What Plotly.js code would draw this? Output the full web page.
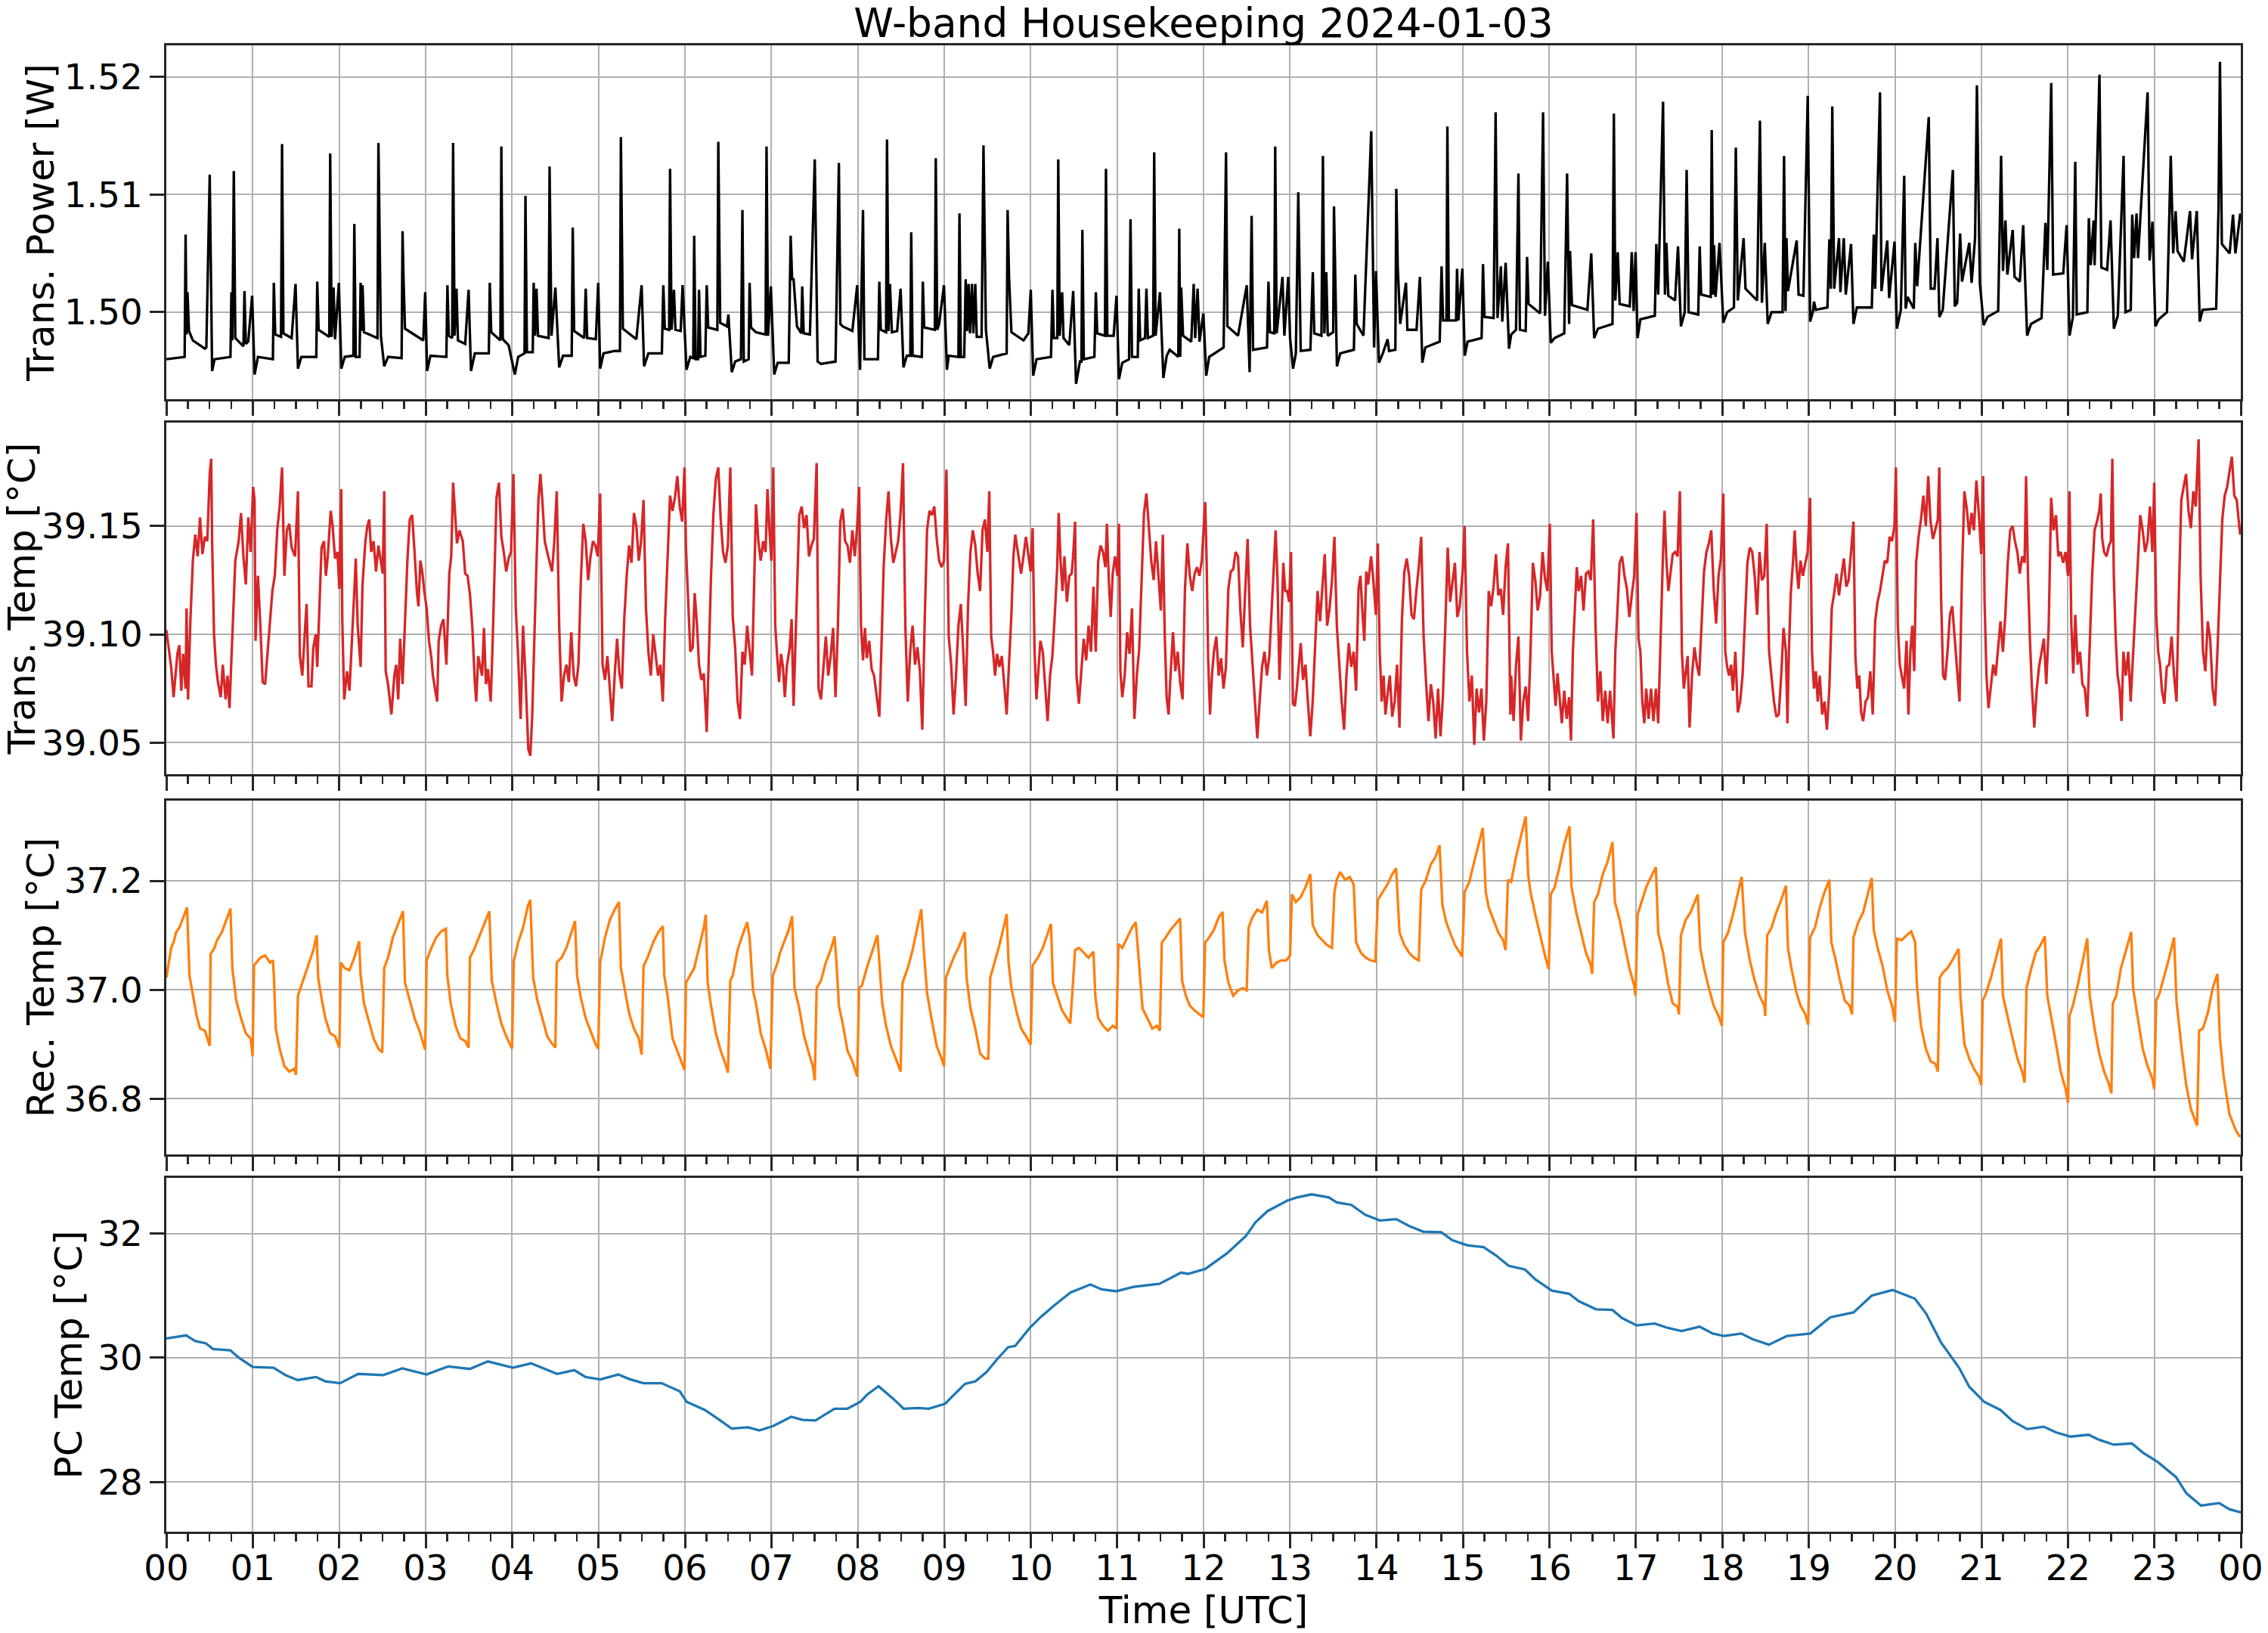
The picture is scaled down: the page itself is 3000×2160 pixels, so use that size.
<!DOCTYPE html>
<html>
<head>
<meta charset="utf-8">
<script src="https://cdn.plot.ly/plotly-3.0.1.min.js"></script>
<style>html,body{margin:0;padding:0;background:#fff;}#chart{width:3000px;height:2160px;}</style>
</head>
<body>
<div id="chart"></div>
<script>
// ---- tick labels (hours UTC) ----
const hourTicks = [0,1,2,3,4,5,6,7,8,9,10,11,12,13,14,15,16,17,18,19,20,21,22,23,24];
const hourLabels = ["00","01","02","03","04","05","06","07","08","09","10","11","12","13","14","15","16","17","18","19","20","21","22","23","00"];

// ---- Trans. Power [W] : [hour, value] ----
const transPower = [
[0.000,1.4960],[0.212,1.4962],[0.223,1.5066],[0.234,1.4981],[0.245,1.5017],[0.262,1.4984],[0.307,1.4976],[0.446,1.4969],[0.463,1.4970],[0.502,1.5117],[0.530,1.4950],[0.558,1.4960],
[0.742,1.4962],[0.753,1.5017],[0.764,1.4976],[0.781,1.5120],[0.798,1.4978],[0.892,1.4971],[0.904,1.5018],[0.920,1.4973],[0.948,1.4975],[0.993,1.5014],[1.021,1.4947],[1.060,1.4962],
[1.233,1.4960],[1.244,1.5025],[1.260,1.4981],[1.327,1.4979],[1.339,1.5143],[1.355,1.4982],[1.450,1.4978],[1.495,1.5024],[1.523,1.4952],[1.562,1.4962],
[1.735,1.4962],[1.746,1.5026],[1.762,1.4985],[1.885,1.4979],[1.896,1.5135],[1.913,1.4979],[1.935,1.5021],[1.952,1.4977],[1.996,1.5025],[2.025,1.4952],[2.064,1.4962],
[2.164,1.4963],[2.175,1.5075],[2.192,1.4962],[2.236,1.4962],[2.248,1.5025],[2.259,1.4984],[2.270,1.5023],[2.287,1.4983],[2.443,1.4978],[2.454,1.5144],[2.482,1.4980],[2.521,1.4954],[2.566,1.4962],
[2.722,1.4961],[2.733,1.5069],[2.744,1.5030],[2.761,1.4986],[2.973,1.4976],[2.995,1.5017],[3.017,1.4950],[3.056,1.4963],
[3.240,1.4962],[3.252,1.5023],[3.268,1.4980],[3.307,1.4978],[3.318,1.5144],[3.335,1.4980],[3.357,1.5020],[3.374,1.4976],[3.458,1.4973],[3.497,1.5019],[3.525,1.4950],[3.569,1.4965],
[3.731,1.4965],[3.742,1.5025],[3.759,1.4983],[3.865,1.4976],[3.876,1.5141],[3.893,1.4977],[3.960,1.4972],[4.032,1.4947],[4.071,1.4962],
[4.144,1.4965],[4.155,1.5099],[4.172,1.4966],[4.239,1.4966],[4.250,1.5025],[4.266,1.4980],[4.283,1.5020],[4.300,1.4980],[4.423,1.4978],[4.434,1.5124],[4.456,1.4980],[4.501,1.5021],[4.545,1.4953],[4.590,1.4963],
[4.690,1.4963],[4.702,1.5072],[4.718,1.4984],[4.835,1.4978],[4.852,1.5020],[4.869,1.4978],[4.969,1.4977],[4.997,1.5025],[5.019,1.4952],[5.058,1.4965],
[5.187,1.4967],[5.248,1.4967],[5.259,1.5149],[5.282,1.4986],[5.438,1.4977],[5.499,1.5023],[5.527,1.4954],[5.577,1.4965],
[5.733,1.4965],[5.750,1.5023],[5.767,1.4986],[5.817,1.4985],[5.828,1.5122],[5.845,1.4985],[5.873,1.5019],[5.890,1.4985],[5.951,1.4984],[5.973,1.5023],[6.018,1.4951],[6.062,1.4962],
[6.096,1.4961],[6.107,1.5065],[6.124,1.4960],[6.152,1.4960],[6.163,1.5019],[6.180,1.4962],[6.236,1.4963],[6.252,1.5023],[6.269,1.4987],[6.375,1.4985],[6.386,1.5145],[6.408,1.4991],[6.486,1.4988],[6.503,1.4998],[6.542,1.4949],[6.581,1.4958],
[6.648,1.4960],[6.665,1.5087],[6.681,1.4958],[6.737,1.4960],[6.748,1.5025],[6.765,1.4987],[6.821,1.4983],[6.933,1.4981],[6.944,1.5141],[6.961,1.4980],[6.994,1.5022],[7.033,1.4947],[7.073,1.4957],
[7.201,1.4957],[7.223,1.5065],[7.240,1.5028],[7.257,1.5028],[7.296,1.4988],[7.346,1.4982],[7.357,1.5022],[7.374,1.4982],[7.446,1.4981],[7.502,1.5130],[7.535,1.4958],[7.574,1.4956],
[7.742,1.4958],[7.758,1.5028],[7.781,1.5127],[7.798,1.4990],[7.825,1.4988],[7.937,1.4984],[7.993,1.5023],[8.026,1.4951],[8.060,1.5087],[8.076,1.4960],
[8.233,1.4960],[8.249,1.5026],[8.266,1.4985],[8.327,1.4983],[8.338,1.5147],[8.355,1.4984],[8.372,1.5024],[8.394,1.4983],[8.455,1.4984],[8.495,1.5020],[8.528,1.4953],[8.567,1.4963],
[8.607,1.4963],[8.618,1.5068],[8.634,1.4963],[8.740,1.4962],[8.752,1.5026],[8.768,1.4987],[8.891,1.4985],[8.902,1.5131],[8.919,1.4985],[8.941,1.4990],[8.997,1.5023],[9.031,1.4951],[9.052,1.4963],
[9.164,1.4962],[9.176,1.5084],[9.192,1.4962],[9.231,1.4962],[9.248,1.5028],[9.264,1.4984],[9.281,1.5024],[9.298,1.4982],[9.320,1.5024],[9.337,1.4982],[9.359,1.5024],[9.376,1.4979],[9.432,1.4979],[9.454,1.5142],[9.482,1.4985],[9.526,1.4952],[9.566,1.4962],
[9.722,1.4965],[9.733,1.5087],[9.750,1.5029],[9.777,1.4983],[9.917,1.4976],[9.973,1.4982],[10.001,1.5019],[10.029,1.4946],[10.068,1.4960],
[10.235,1.4962],[10.252,1.5019],[10.268,1.4978],[10.308,1.4978],[10.319,1.5130],[10.336,1.4980],[10.364,1.5017],[10.380,1.4978],[10.447,1.4972],[10.492,1.5018],[10.525,1.4939],[10.570,1.4958],
[10.587,1.4958],[10.598,1.5070],[10.615,1.4960],[10.737,1.4962],[10.754,1.5017],[10.770,1.4982],[10.859,1.4980],[10.871,1.5122],[10.887,1.4980],[10.960,1.4980],[10.993,1.5014],[11.021,1.4943],[11.060,1.4957],
[11.138,1.4960],[11.155,1.5079],[11.172,1.4962],[11.239,1.4962],[11.250,1.5020],[11.267,1.4976],[11.323,1.4978],[11.339,1.5020],[11.356,1.4978],[11.417,1.4980],[11.429,1.5136],[11.445,1.4980],[11.496,1.5017],[11.535,1.4944],[11.574,1.4963],
[11.608,1.4968],[11.708,1.4962],[11.719,1.5071],[11.730,1.4962],[11.741,1.5021],[11.763,1.4980],[11.858,1.4975],[11.886,1.5024],[11.903,1.4978],[11.931,1.5020],[11.953,1.4975],[11.998,1.4999],[12.031,1.4946],[12.065,1.4962],
[12.232,1.4970],[12.260,1.5136],[12.276,1.4988],[12.399,1.4980],[12.500,1.5023],[12.533,1.4949],[12.556,1.5082],[12.573,1.4968],
[12.734,1.4970],[12.751,1.5026],[12.768,1.4983],[12.818,1.4982],[12.829,1.5141],[12.846,1.4982],[12.913,1.5030],[12.935,1.4980],[12.980,1.5030],[13.001,1.4978],[13.035,1.4952],[13.068,1.4965],
[13.096,1.5102],[13.124,1.4967],[13.236,1.4968],[13.264,1.5034],[13.281,1.4982],[13.364,1.4980],[13.381,1.5133],[13.398,1.4982],[13.420,1.5034],[13.437,1.4980],[13.500,1.4983],[13.509,1.5090],[13.543,1.4954],[13.582,1.4965],
[13.739,1.4968],[13.756,1.5032],[13.772,1.4990],[13.850,1.4980],[13.940,1.5154],[13.973,1.4970],[13.995,1.5035],[14.029,1.4957],[14.074,1.4965],
[14.129,1.4977],[14.146,1.4967],[14.219,1.4968],[14.230,1.5105],[14.247,1.5038],[14.275,1.4990],[14.342,1.5025],[14.358,1.4985],[14.464,1.4985],[14.503,1.5030],[14.531,1.4957],[14.565,1.4970],
[14.732,1.4975],[14.754,1.5039],[14.771,1.4993],[14.810,1.4993],[14.821,1.5158],[14.838,1.4993],[14.921,1.4993],[14.933,1.5037],[14.949,1.4993],[14.994,1.5037],[15.022,1.4963],[15.055,1.4975],
[15.217,1.4978],[15.233,1.5041],[15.250,1.4996],[15.356,1.4995],[15.379,1.5170],[15.401,1.4995],[15.440,1.5039],[15.456,1.4992],[15.495,1.5042],[15.534,1.4969],[15.559,1.4981],
[15.615,1.4985],[15.643,1.5118],[15.660,1.4985],[15.727,1.4984],[15.743,1.5047],[15.760,1.5007],[15.894,1.4999],[15.928,1.5170],[15.950,1.4997],[15.983,1.5043],[16.017,1.4974],[16.061,1.4978],
[16.173,1.4982],[16.206,1.5118],[16.229,1.4990],[16.240,1.5052],[16.262,1.5006],[16.441,1.5002],[16.485,1.5050],[16.519,1.4978],[16.563,1.4986],
[16.731,1.4990],[16.747,1.5169],[16.764,1.5010],[16.792,1.5051],[16.814,1.5007],[16.931,1.5005],[16.954,1.5051],[16.976,1.5001],[16.998,1.5051],[17.021,1.4978],[17.054,1.4994],
[17.221,1.4997],[17.238,1.5058],[17.260,1.5015],[17.316,1.5179],[17.338,1.5015],[17.355,1.5059],[17.377,1.5014],[17.455,1.5010],[17.489,1.5056],[17.523,1.4988],[17.567,1.5000],
[17.589,1.5121],[17.612,1.5000],[17.723,1.4998],[17.740,1.5056],[17.757,1.5015],[17.868,1.5013],[17.879,1.5155],[17.896,1.5015],[17.907,1.5057],[17.924,1.5013],[17.969,1.5059],[18.013,1.4991],[18.058,1.5000],
[18.136,1.5004],[18.158,1.5140],[18.181,1.5010],[18.248,1.5063],[18.270,1.5020],[18.404,1.5010],[18.437,1.5163],[18.460,1.5008],[18.493,1.5059],[18.527,1.4990],[18.571,1.5000],
[18.699,1.5000],[18.716,1.5133],[18.733,1.5001],[18.744,1.5063],[18.761,1.5018],[18.862,1.5061],[18.884,1.5015],[18.940,1.5014],[18.990,1.5184],[19.018,1.4992],[19.051,1.5001],[19.062,1.5009],[19.084,1.5002],
[19.218,1.5004],[19.240,1.5062],[19.257,1.5020],[19.274,1.5175],[19.296,1.5020],[19.352,1.5063],[19.368,1.5017],[19.407,1.5063],[19.430,1.5015],[19.491,1.5058],[19.519,1.4990],[19.558,1.5004],
[19.731,1.5004],[19.754,1.5066],[19.770,1.5020],[19.826,1.5187],[19.843,1.5018],[19.910,1.5061],[19.932,1.5012],[19.994,1.5060],[20.022,1.4986],[20.067,1.5002],
[20.106,1.5116],[20.123,1.5003],[20.145,1.5013],[20.217,1.5003],[20.234,1.5059],[20.256,1.5022],[20.390,1.5166],[20.413,1.5020],[20.457,1.5020],[20.491,1.5063],[20.513,1.4996],[20.552,1.5002],
[20.669,1.5121],[20.691,1.5005],[20.719,1.5008],[20.753,1.5067],[20.775,1.5026],[20.859,1.5059],[20.886,1.5025],[20.926,1.5063],[20.947,1.5193],[20.981,1.5025],[21.026,1.4989],[21.070,1.4996],
[21.193,1.5001],[21.227,1.5133],[21.249,1.5035],[21.277,1.5078],[21.299,1.5032],[21.361,1.5070],[21.383,1.5030],[21.444,1.5026],[21.483,1.5074],[21.528,1.4980],[21.573,1.4990],
[21.695,1.4995],[21.740,1.5076],[21.762,1.5036],[21.807,1.5195],[21.829,1.5032],[21.946,1.5033],[21.985,1.5074],[22.019,1.4980],[22.058,1.4996],
[22.085,1.5128],[22.102,1.4998],[22.225,1.5000],[22.242,1.5080],[22.264,1.5040],[22.297,1.5078],[22.309,1.5040],[22.365,1.5202],[22.387,1.5038],[22.454,1.5036],[22.493,1.5078],[22.532,1.4986],[22.577,1.4997],
[22.644,1.5133],[22.666,1.5000],[22.727,1.5002],[22.744,1.5083],[22.766,1.5046],[22.794,1.5084],[22.811,1.5046],[22.922,1.5187],[22.945,1.5044],[22.978,1.5077],[23.012,1.4988],[23.051,1.4994],
[23.146,1.5000],[23.190,1.5133],[23.218,1.5050],[23.246,1.5086],[23.268,1.5052],[23.341,1.5043],[23.413,1.5086],[23.436,1.5045],[23.491,1.5086],[23.525,1.4992],[23.558,1.5002],
[23.715,1.5003],[23.742,1.5087],[23.759,1.5213],[23.781,1.5058],[23.871,1.5050],[23.910,1.5083],[23.938,1.5050],[23.994,1.5084]
];

// ---- Trans. Temp [°C] ----
const transTemp = [
[0.000,39.102],[0.056,39.085],[0.084,39.071],[0.128,39.091],[0.151,39.095],[0.173,39.074],[0.195,39.091],[0.223,39.075],[0.234,39.112],[0.251,39.070],[0.279,39.107],[0.307,39.134],[0.335,39.146],[0.363,39.136],[0.390,39.154],[0.418,39.137],[0.446,39.145],[0.474,39.143],[0.502,39.174],[0.519,39.181],
[0.530,39.143],[0.552,39.100],[0.574,39.086],[0.597,39.078],[0.630,39.071],[0.653,39.086],[0.686,39.070],[0.708,39.081],[0.731,39.066],[0.753,39.088],[0.775,39.108],[0.798,39.134],[0.837,39.143],[0.864,39.156],[0.892,39.136],[0.920,39.123],[0.948,39.154],[0.976,39.138],[1.004,39.168],[1.021,39.162],
[1.032,39.097],[1.060,39.127],[1.088,39.104],[1.115,39.078],[1.143,39.077],[1.171,39.092],[1.199,39.106],[1.227,39.120],[1.255,39.127],[1.283,39.148],[1.311,39.159],[1.339,39.177],[1.366,39.127],[1.394,39.148],[1.422,39.151],[1.450,39.140],[1.489,39.136],[1.523,39.166],
[1.545,39.090],[1.573,39.081],[1.601,39.100],[1.623,39.114],[1.645,39.076],[1.679,39.076],[1.701,39.094],[1.729,39.100],[1.746,39.085],[1.768,39.109],[1.796,39.140],[1.824,39.143],[1.846,39.127],[1.868,39.136],[1.902,39.157],[1.924,39.150],[1.952,39.135],[1.980,39.138],[2.002,39.121],[2.024,39.167],
[2.036,39.106],[2.058,39.070],[2.091,39.083],[2.119,39.074],[2.147,39.100],[2.175,39.120],[2.192,39.135],[2.214,39.104],[2.248,39.085],[2.270,39.123],[2.303,39.143],[2.326,39.150],[2.348,39.153],[2.370,39.138],[2.398,39.143],[2.426,39.129],[2.454,39.141],[2.482,39.134],[2.504,39.128],[2.521,39.166],
[2.538,39.083],[2.565,39.077],[2.604,39.063],[2.638,39.081],[2.660,39.086],[2.683,39.070],[2.705,39.098],[2.733,39.077],[2.761,39.104],[2.789,39.134],[2.816,39.153],[2.844,39.155],[2.872,39.138],[2.900,39.119],[2.917,39.113],[2.939,39.134],[2.961,39.129],[2.984,39.120],
[3.012,39.112],[3.039,39.097],[3.067,39.089],[3.084,39.081],[3.112,39.074],[3.134,39.069],[3.151,39.097],[3.179,39.104],[3.207,39.107],[3.240,39.086],[3.274,39.128],[3.296,39.136],[3.318,39.170],[3.341,39.155],[3.363,39.142],[3.391,39.148],[3.430,39.143],[3.458,39.128],[3.486,39.127],[3.514,39.118],
[3.541,39.103],[3.569,39.078],[3.586,39.069],[3.608,39.090],[3.631,39.085],[3.653,39.081],[3.675,39.103],[3.698,39.077],[3.720,39.084],[3.753,39.069],[3.776,39.097],[3.798,39.127],[3.820,39.163],[3.848,39.170],[3.876,39.145],[3.904,39.138],[3.932,39.129],[3.960,39.135],[3.988,39.138],[4.016,39.174],
[4.043,39.112],[4.071,39.089],[4.099,39.061],[4.127,39.104],[4.155,39.081],[4.188,39.047],[4.211,39.044],[4.233,39.062],[4.255,39.097],[4.278,39.127],[4.305,39.162],[4.328,39.174],[4.350,39.162],[4.378,39.143],[4.406,39.138],[4.434,39.134],[4.462,39.129],[4.489,39.143],[4.517,39.166],
[4.545,39.104],[4.573,39.069],[4.601,39.081],[4.629,39.086],[4.657,39.078],[4.685,39.101],[4.713,39.081],[4.740,39.076],[4.768,39.086],[4.796,39.125],[4.824,39.151],[4.852,39.143],[4.880,39.125],[4.908,39.136],[4.936,39.143],[4.964,39.141],[4.992,39.136],[5.019,39.165],
[5.047,39.086],[5.075,39.079],[5.103,39.090],[5.131,39.075],[5.159,39.060],[5.187,39.081],[5.215,39.098],[5.242,39.082],[5.270,39.075],[5.298,39.107],[5.326,39.127],[5.354,39.141],[5.382,39.133],[5.410,39.156],[5.438,39.150],[5.466,39.134],[5.493,39.143],[5.521,39.162],
[5.549,39.112],[5.577,39.092],[5.605,39.081],[5.633,39.100],[5.661,39.090],[5.689,39.081],[5.717,39.086],[5.744,39.069],[5.772,39.108],[5.800,39.134],[5.828,39.164],[5.856,39.157],[5.884,39.163],[5.912,39.173],[5.940,39.159],[5.968,39.152],[5.995,39.177],
[6.012,39.140],[6.040,39.113],[6.062,39.092],[6.090,39.094],[6.113,39.119],[6.140,39.104],[6.163,39.086],[6.190,39.079],[6.218,39.082],[6.252,39.055],[6.274,39.086],[6.302,39.127],[6.330,39.156],[6.358,39.172],[6.386,39.177],[6.414,39.153],[6.441,39.138],[6.469,39.133],[6.497,39.141],[6.525,39.177],
[6.553,39.108],[6.581,39.094],[6.609,39.069],[6.637,39.061],[6.665,39.092],[6.692,39.086],[6.720,39.104],[6.748,39.093],[6.776,39.081],[6.822,39.160],[6.849,39.143],[6.877,39.134],[6.905,39.143],[6.933,39.138],[6.955,39.167],[6.978,39.148],[7.000,39.134],[7.022,39.177],
[7.033,39.150],[7.045,39.104],[7.067,39.090],[7.089,39.078],[7.112,39.091],[7.134,39.085],[7.156,39.071],[7.178,39.085],[7.212,39.094],[7.234,39.107],[7.257,39.067],[7.279,39.098],[7.301,39.127],[7.323,39.155],[7.351,39.159],[7.379,39.149],[7.407,39.155],[7.435,39.136],[7.463,39.141],[7.491,39.144],[7.524,39.179],
[7.546,39.075],[7.574,39.070],[7.602,39.086],[7.630,39.099],[7.658,39.081],[7.686,39.090],[7.714,39.103],[7.742,39.071],[7.770,39.104],[7.797,39.152],[7.825,39.158],[7.853,39.143],[7.881,39.141],[7.909,39.133],[7.937,39.148],[7.965,39.136],[7.993,39.150],[8.015,39.168],
[8.037,39.104],[8.060,39.088],[8.082,39.103],[8.104,39.089],[8.132,39.097],[8.160,39.084],[8.188,39.081],[8.216,39.072],[8.249,39.062],[8.272,39.092],[8.299,39.131],[8.327,39.152],[8.355,39.166],[8.383,39.144],[8.411,39.133],[8.439,39.138],[8.467,39.143],[8.495,39.156],[8.523,39.179],
[8.550,39.104],[8.578,39.069],[8.606,39.092],[8.634,39.104],[8.662,39.086],[8.690,39.094],[8.718,39.083],[8.746,39.056],[8.774,39.106],[8.801,39.148],[8.829,39.157],[8.857,39.155],[8.885,39.159],[8.913,39.144],[8.941,39.134],[8.969,39.131],[8.997,39.134],[9.025,39.176],
[9.052,39.099],[9.080,39.086],[9.108,39.063],[9.136,39.081],[9.164,39.104],[9.192,39.114],[9.220,39.092],[9.248,39.067],[9.275,39.113],[9.303,39.138],[9.331,39.148],[9.359,39.141],[9.387,39.128],[9.415,39.120],[9.443,39.148],[9.471,39.153],[9.499,39.138],[9.521,39.166],
[9.543,39.099],[9.565,39.092],[9.588,39.081],[9.610,39.091],[9.638,39.085],[9.666,39.090],[9.694,39.077],[9.722,39.063],[9.749,39.086],[9.777,39.109],[9.800,39.136],[9.822,39.146],[9.844,39.140],[9.866,39.134],[9.889,39.128],[9.917,39.136],[9.945,39.145],[9.972,39.137],[10.000,39.129],[10.023,39.149],
[10.045,39.092],[10.067,39.070],[10.090,39.086],[10.112,39.097],[10.140,39.092],[10.168,39.075],[10.196,39.060],[10.224,39.081],[10.251,39.090],[10.279,39.109],[10.307,39.131],[10.324,39.156],[10.346,39.134],[10.368,39.120],[10.391,39.136],[10.419,39.115],[10.447,39.127],[10.474,39.128],[10.491,39.136],[10.514,39.152],
[10.530,39.081],[10.558,39.068],[10.586,39.083],[10.614,39.098],[10.642,39.088],[10.670,39.104],[10.698,39.092],[10.726,39.122],[10.753,39.092],[10.781,39.134],[10.809,39.141],[10.837,39.138],[10.865,39.131],[10.882,39.151],[10.904,39.125],[10.926,39.108],[10.949,39.128],[10.976,39.136],[11.004,39.127],[11.021,39.151],
[11.038,39.083],[11.060,39.071],[11.088,39.081],[11.116,39.101],[11.144,39.091],[11.172,39.112],[11.200,39.061],[11.228,39.081],[11.255,39.093],[11.283,39.127],[11.311,39.156],[11.339,39.165],[11.367,39.150],[11.395,39.134],[11.423,39.125],[11.450,39.143],[11.478,39.127],[11.506,39.111],[11.529,39.146],
[11.551,39.100],[11.573,39.071],[11.595,39.063],[11.618,39.081],[11.646,39.101],[11.673,39.083],[11.701,39.092],[11.729,39.078],[11.757,39.070],[11.785,39.121],[11.813,39.142],[11.841,39.127],[11.869,39.120],[11.897,39.128],[11.924,39.131],[11.952,39.127],[11.980,39.134],[12.019,39.161],
[12.036,39.133],[12.053,39.089],[12.075,39.063],[12.097,39.081],[12.120,39.092],[12.148,39.099],[12.175,39.081],[12.203,39.089],[12.231,39.075],[12.259,39.085],[12.287,39.121],[12.315,39.129],[12.343,39.130],[12.371,39.138],[12.399,39.136],[12.426,39.111],[12.454,39.094],[12.482,39.120],[12.510,39.144],
[12.538,39.104],[12.566,39.088],[12.594,39.069],[12.622,39.052],[12.649,39.069],[12.677,39.085],[12.705,39.092],[12.733,39.081],[12.761,39.090],[12.789,39.113],[12.817,39.134],[12.834,39.148],[12.856,39.125],[12.878,39.079],[12.900,39.104],[12.923,39.133],[12.945,39.120],[12.967,39.120],[12.990,39.115],[13.012,39.138],
[13.034,39.068],[13.057,39.067],[13.079,39.075],[13.101,39.085],[13.124,39.096],[13.151,39.079],[13.179,39.086],[13.207,39.069],[13.235,39.053],[13.263,39.069],[13.291,39.092],[13.319,39.120],[13.347,39.106],[13.375,39.120],[13.402,39.137],[13.430,39.104],[13.458,39.112],[13.486,39.125],[13.514,39.145],
[13.542,39.104],[13.570,39.086],[13.598,39.069],[13.626,39.056],[13.653,39.081],[13.681,39.096],[13.709,39.085],[13.737,39.092],[13.765,39.074],[13.793,39.121],[13.815,39.127],[13.837,39.111],[13.860,39.097],[13.882,39.129],[13.904,39.123],[13.938,39.136],[13.960,39.127],[13.994,39.109],[14.016,39.142],
[14.038,39.092],[14.061,39.069],[14.083,39.081],[14.105,39.063],[14.128,39.072],[14.155,39.081],[14.183,39.062],[14.211,39.069],[14.239,39.086],[14.267,39.057],[14.295,39.107],[14.323,39.129],[14.351,39.135],[14.378,39.127],[14.406,39.109],[14.434,39.107],[14.462,39.120],[14.490,39.131],[14.518,39.145],
[14.546,39.099],[14.574,39.078],[14.602,39.060],[14.630,39.077],[14.657,39.069],[14.685,39.052],[14.713,39.075],[14.741,39.053],[14.769,39.071],[14.797,39.104],[14.825,39.140],[14.853,39.115],[14.881,39.125],[14.908,39.133],[14.936,39.108],[14.964,39.113],[14.998,39.129],[15.020,39.150],
[15.048,39.092],[15.076,39.069],[15.104,39.081],[15.132,39.049],[15.159,39.075],[15.187,39.064],[15.215,39.075],[15.243,39.051],[15.271,39.069],[15.299,39.120],[15.327,39.113],[15.355,39.122],[15.383,39.137],[15.410,39.118],[15.438,39.121],[15.466,39.109],[15.494,39.131],[15.522,39.142],
[15.550,39.063],[15.559,39.081],[15.587,39.060],[15.615,39.086],[15.643,39.099],[15.671,39.051],[15.699,39.069],[15.727,39.076],[15.755,39.060],[15.783,39.092],[15.810,39.133],[15.838,39.125],[15.866,39.111],[15.894,39.118],[15.922,39.138],[15.950,39.126],[15.978,39.120],[16.006,39.151],
[16.028,39.092],[16.050,39.081],[16.073,39.067],[16.095,39.082],[16.117,39.071],[16.145,39.059],[16.173,39.074],[16.201,39.061],[16.229,39.071],[16.251,39.051],[16.273,39.092],[16.296,39.115],[16.318,39.131],[16.340,39.120],[16.368,39.127],[16.396,39.111],[16.424,39.128],[16.452,39.129],[16.480,39.125],[16.508,39.153],
[16.535,39.104],[16.563,39.069],[16.591,39.083],[16.619,39.060],[16.647,39.074],[16.675,39.059],[16.703,39.074],[16.742,39.052],[16.764,39.092],[16.786,39.109],[16.814,39.133],[16.842,39.136],[16.870,39.127],[16.898,39.121],[16.926,39.108],[16.954,39.118],[16.982,39.127],[17.009,39.156],
[17.032,39.098],[17.054,39.092],[17.076,39.069],[17.099,39.059],[17.121,39.075],[17.149,39.061],[17.177,39.075],[17.205,39.060],[17.233,39.075],[17.260,39.059],[17.288,39.104],[17.316,39.138],[17.333,39.157],[17.355,39.134],[17.378,39.120],[17.400,39.127],[17.428,39.137],[17.456,39.138],[17.484,39.136],[17.511,39.166],
[17.534,39.092],[17.556,39.075],[17.578,39.083],[17.601,39.090],[17.623,39.057],[17.651,39.081],[17.679,39.094],[17.707,39.086],[17.734,39.081],[17.762,39.104],[17.790,39.129],[17.818,39.138],[17.846,39.142],[17.874,39.148],[17.902,39.121],[17.930,39.105],[17.958,39.127],[17.985,39.135],[18.013,39.165],
[18.036,39.092],[18.058,39.085],[18.080,39.081],[18.103,39.086],[18.125,39.074],[18.153,39.092],[18.181,39.064],[18.208,39.069],[18.236,39.081],[18.264,39.104],[18.292,39.133],[18.320,39.140],[18.348,39.138],[18.376,39.127],[18.404,39.109],[18.432,39.138],[18.460,39.125],[18.487,39.127],[18.515,39.151],
[18.543,39.092],[18.571,39.081],[18.599,39.069],[18.627,39.062],[18.655,39.063],[18.683,39.081],[18.710,39.103],[18.738,39.092],[18.755,39.059],[18.772,39.092],[18.794,39.119],[18.822,39.135],[18.839,39.148],[18.861,39.131],[18.883,39.121],[18.906,39.134],[18.934,39.127],[18.962,39.133],[18.989,39.138],[19.017,39.163],
[19.039,39.092],[19.062,39.075],[19.084,39.083],[19.106,39.069],[19.129,39.081],[19.157,39.063],[19.184,39.069],[19.212,39.056],[19.240,39.075],[19.268,39.112],[19.296,39.119],[19.324,39.128],[19.352,39.118],[19.380,39.127],[19.408,39.135],[19.436,39.122],[19.463,39.125],[19.491,39.138],[19.519,39.152],
[19.541,39.090],[19.564,39.075],[19.586,39.081],[19.608,39.064],[19.631,39.060],[19.659,39.069],[19.687,39.071],[19.714,39.083],[19.742,39.063],[19.770,39.106],[19.798,39.115],[19.826,39.120],[19.854,39.127],[19.882,39.134],[19.910,39.133],[19.937,39.145],[19.965,39.143],[19.993,39.150],[20.010,39.177],
[20.032,39.104],[20.055,39.086],[20.077,39.081],[20.105,39.075],[20.133,39.097],[20.155,39.063],[20.177,39.092],[20.199,39.104],[20.222,39.083],[20.244,39.133],[20.272,39.145],[20.300,39.153],[20.328,39.164],[20.356,39.150],[20.384,39.173],[20.411,39.152],[20.439,39.144],[20.467,39.148],[20.495,39.153],[20.512,39.177],
[20.534,39.115],[20.556,39.081],[20.579,39.079],[20.607,39.092],[20.635,39.109],[20.662,39.113],[20.690,39.098],[20.718,39.086],[20.746,39.069],[20.774,39.127],[20.802,39.166],[20.830,39.158],[20.858,39.146],[20.886,39.156],[20.913,39.148],[20.941,39.171],[20.969,39.156],[20.997,39.137],[21.019,39.173],
[21.036,39.115],[21.058,39.081],[21.081,39.066],[21.109,39.075],[21.136,39.086],[21.164,39.081],[21.192,39.094],[21.220,39.106],[21.248,39.092],[21.276,39.109],[21.304,39.133],[21.332,39.148],[21.360,39.150],[21.387,39.143],[21.415,39.138],[21.443,39.128],[21.471,39.136],[21.499,39.133],[21.516,39.173],
[21.538,39.127],[21.560,39.098],[21.583,39.076],[21.611,39.057],[21.638,39.074],[21.666,39.085],[21.694,39.092],[21.722,39.098],[21.750,39.077],[21.778,39.104],[21.806,39.163],[21.834,39.148],[21.862,39.155],[21.889,39.136],[21.917,39.138],[21.945,39.133],[21.973,39.138],[22.001,39.127],[22.018,39.166],
[22.040,39.104],[22.062,39.082],[22.085,39.109],[22.113,39.086],[22.140,39.092],[22.168,39.077],[22.196,39.075],[22.224,39.062],[22.252,39.092],[22.280,39.127],[22.308,39.148],[22.336,39.152],[22.363,39.157],[22.380,39.165],[22.397,39.144],[22.419,39.138],[22.447,39.136],[22.475,39.141],[22.497,39.143],[22.514,39.181],
[22.531,39.127],[22.553,39.098],[22.575,39.081],[22.598,39.075],[22.620,39.060],[22.642,39.092],[22.670,39.081],[22.698,39.092],[22.726,39.069],[22.754,39.092],[22.782,39.113],[22.810,39.136],[22.837,39.155],[22.865,39.148],[22.893,39.138],[22.921,39.143],[22.949,39.159],[22.977,39.138],[22.999,39.170],
[23.022,39.109],[23.044,39.092],[23.066,39.086],[23.088,39.074],[23.116,39.068],[23.144,39.085],[23.172,39.086],[23.200,39.099],[23.228,39.081],[23.256,39.069],[23.284,39.120],[23.312,39.162],[23.339,39.168],[23.367,39.174],[23.395,39.157],[23.423,39.149],[23.451,39.166],[23.479,39.159],[23.512,39.190],
[23.535,39.127],[23.563,39.092],[23.590,39.083],[23.618,39.106],[23.646,39.098],[23.674,39.075],[23.702,39.067],[23.730,39.092],[23.758,39.127],[23.786,39.153],[23.814,39.164],[23.842,39.168],[23.869,39.175],[23.897,39.182],[23.925,39.164],[23.953,39.162],[23.992,39.146]
];

// ---- Rec. Temp [°C] ----
const recTemp = [
[0.000,37.022],[0.056,37.077],[0.084,37.087],[0.112,37.105],[0.151,37.114],[0.184,37.128],[0.212,37.138],[0.240,37.151],[0.268,37.026],[0.307,36.989],[0.351,36.952],[0.390,36.929],[0.446,36.925],[0.502,36.897],
[0.513,37.066],[0.558,37.077],[0.586,37.091],[0.641,37.105],[0.697,37.128],[0.742,37.149],[0.764,37.040],[0.809,36.980],[0.864,36.948],[0.920,36.920],[0.976,36.911],[0.998,36.878],
[1.015,37.045],[1.088,37.059],[1.143,37.063],[1.199,37.050],[1.233,37.054],[1.244,37.026],[1.266,36.929],[1.311,36.892],[1.366,36.860],[1.422,36.850],[1.478,36.855],[1.500,36.844],
[1.523,36.989],[1.562,37.008],[1.601,37.026],[1.645,37.045],[1.701,37.073],[1.740,37.100],[1.757,37.022],[1.801,36.980],[1.840,36.948],[1.896,36.920],[1.952,36.915],[2.002,36.894],
[2.019,37.050],[2.063,37.040],[2.119,37.036],[2.175,37.059],[2.231,37.089],[2.248,37.026],[2.287,36.975],[2.342,36.943],[2.398,36.911],[2.454,36.892],[2.498,36.885],
[2.521,37.040],[2.565,37.059],[2.621,37.096],[2.677,37.119],[2.738,37.144],[2.761,37.013],[2.816,36.980],[2.872,36.948],[2.928,36.925],[2.995,36.890],
[3.012,37.054],[3.067,37.077],[3.123,37.096],[3.179,37.107],[3.235,37.112],[3.251,37.026],[3.290,36.975],[3.346,36.934],[3.402,36.911],[3.458,36.906],[3.497,36.894],
[3.513,37.059],[3.569,37.077],[3.625,37.100],[3.681,37.124],[3.737,37.144],[3.765,37.017],[3.820,36.975],[3.876,36.938],[3.932,36.915],[3.999,36.892],
[4.021,37.054],[4.071,37.087],[4.127,37.114],[4.183,37.154],[4.211,37.165],[4.244,37.022],[4.294,36.980],[4.350,36.948],[4.406,36.915],[4.462,36.901],[4.501,36.894],
[4.517,37.050],[4.573,37.059],[4.629,37.077],[4.685,37.105],[4.729,37.126],[4.752,37.026],[4.796,36.985],[4.852,36.948],[4.908,36.925],[4.964,36.901],[4.997,36.892],
[5.019,37.050],[5.075,37.096],[5.131,37.128],[5.187,37.147],[5.237,37.161],[5.259,37.040],[5.298,37.008],[5.354,36.957],[5.410,36.929],[5.466,36.911],[5.499,36.881],
[5.521,37.043],[5.577,37.063],[5.633,37.087],[5.689,37.105],[5.744,37.117],[5.761,37.026],[5.800,36.989],[5.856,36.911],[5.912,36.888],[5.968,36.864],[5.995,36.853],
[6.012,37.013],[6.107,37.040],[6.163,37.077],[6.218,37.114],[6.241,37.138],[6.263,37.013],[6.302,36.971],[6.358,36.920],[6.414,36.888],[6.469,36.864],[6.497,36.848],
[6.525,37.017],[6.553,37.026],[6.609,37.073],[6.665,37.100],[6.720,37.124],[6.748,37.096],[6.787,36.999],[6.822,36.975],[6.877,36.920],[6.933,36.892],[6.989,36.855],
[7.017,37.026],[7.072,37.050],[7.100,37.068],[7.156,37.091],[7.201,37.110],[7.240,37.135],[7.268,37.003],[7.323,36.966],[7.379,36.915],[7.435,36.883],[7.480,36.860],[7.502,36.834],
[7.524,37.003],[7.574,37.017],[7.630,37.050],[7.686,37.073],[7.731,37.098],[7.753,37.050],[7.781,36.971],[7.825,36.938],[7.881,36.888],[7.937,36.869],[7.993,36.841],
[8.015,37.003],[8.048,37.008],[8.104,37.040],[8.160,37.068],[8.227,37.100],[8.249,37.050],[8.283,36.975],[8.327,36.934],[8.383,36.897],[8.439,36.874],[8.495,36.850],
[8.517,37.013],[8.578,37.040],[8.634,37.073],[8.690,37.114],[8.734,37.148],[8.762,37.077],[8.801,36.994],[8.857,36.943],[8.913,36.897],[8.969,36.874],[8.997,36.860],
[9.019,37.022],[9.052,37.036],[9.108,37.059],[9.164,37.077],[9.236,37.106],[9.259,37.022],[9.303,36.966],[9.359,36.929],[9.415,36.883],[9.471,36.874],[9.510,36.874],
[9.532,37.022],[9.582,37.050],[9.638,37.082],[9.694,37.119],[9.722,37.139],[9.744,37.050],[9.777,37.003],[9.833,36.962],[9.889,36.929],[9.945,36.915],[10.000,36.899],
[10.023,37.045],[10.084,37.059],[10.140,37.077],[10.196,37.105],[10.235,37.121],[10.257,37.013],[10.307,36.989],[10.363,36.962],[10.419,36.948],[10.458,36.938],
[10.514,37.073],[10.558,37.077],[10.614,37.068],[10.670,37.059],[10.726,37.070],[10.748,36.989],[10.781,36.948],[10.837,36.934],[10.893,36.925],[10.949,36.934],[10.993,36.929],
[11.015,37.084],[11.060,37.077],[11.116,37.096],[11.172,37.114],[11.216,37.124],[11.255,37.050],[11.294,36.966],[11.350,36.948],[11.406,36.929],[11.462,36.934],[11.495,36.925],
[11.517,37.087],[11.562,37.096],[11.618,37.110],[11.673,37.121],[11.729,37.131],[11.751,37.017],[11.796,36.989],[11.841,36.971],[11.897,36.962],[11.952,36.955],[11.997,36.950],
[12.019,37.087],[12.064,37.096],[12.120,37.110],[12.175,37.133],[12.220,37.143],[12.242,37.054],[12.287,37.013],[12.343,36.989],[12.399,36.999],[12.454,37.003],[12.499,36.999],
[12.521,37.114],[12.566,37.133],[12.622,37.147],[12.677,37.142],[12.733,37.163],[12.756,37.073],[12.789,37.040],[12.845,37.050],[12.900,37.054],[12.956,37.054],[13.001,37.063],
[13.023,37.175],[13.068,37.161],[13.124,37.170],[13.179,37.188],[13.235,37.212],[13.263,37.119],[13.319,37.100],[13.375,37.091],[13.430,37.082],[13.486,37.077],
[13.514,37.179],[13.542,37.202],[13.581,37.216],[13.637,37.202],[13.692,37.207],[13.737,37.193],[13.765,37.087],[13.821,37.068],[13.876,37.059],[13.932,37.054],[13.988,37.052],
[14.016,37.165],[14.072,37.179],[14.127,37.193],[14.183,37.212],[14.228,37.223],[14.267,37.105],[14.323,37.082],[14.378,37.068],[14.434,37.059],[14.490,37.054],
[14.518,37.184],[14.574,37.202],[14.629,37.230],[14.685,37.244],[14.730,37.265],[14.763,37.156],[14.808,37.124],[14.852,37.105],[14.908,37.082],[14.964,37.068],[14.992,37.061],
[15.020,37.179],[15.075,37.198],[15.131,37.235],[15.187,37.272],[15.231,37.297],[15.265,37.179],[15.299,37.151],[15.355,37.128],[15.410,37.105],[15.466,37.091],[15.494,37.073],
[15.522,37.202],[15.559,37.198],[15.615,37.244],[15.671,37.281],[15.727,37.318],[15.755,37.212],[15.783,37.179],[15.838,37.138],[15.894,37.100],[15.950,37.063],[15.994,37.038],
[16.017,37.175],[16.061,37.188],[16.117,37.225],[16.173,37.267],[16.234,37.300],[16.257,37.188],[16.312,37.142],[16.368,37.105],[16.424,37.068],[16.480,37.045],[16.496,37.029],
[16.519,37.161],[16.563,37.175],[16.619,37.212],[16.675,37.235],[16.731,37.271],[16.759,37.161],[16.814,37.128],[16.870,37.082],[16.926,37.040],[16.982,37.008],[16.998,36.989],
[17.021,37.138],[17.065,37.161],[17.121,37.188],[17.177,37.207],[17.233,37.225],[17.260,37.105],[17.316,37.068],[17.372,37.013],[17.428,36.975],[17.484,36.969],[17.500,36.955],
[17.523,37.100],[17.578,37.128],[17.634,37.142],[17.679,37.161],[17.718,37.175],[17.746,37.077],[17.790,37.040],[17.846,37.003],[17.902,36.971],[17.958,36.952],[17.997,36.934],
[18.013,37.087],[18.069,37.105],[18.125,37.138],[18.181,37.179],[18.225,37.207],[18.264,37.105],[18.320,37.054],[18.376,37.017],[18.432,36.989],[18.487,36.971],[18.499,36.952],
[18.521,37.100],[18.571,37.114],[18.627,37.142],[18.683,37.165],[18.738,37.191],[18.761,37.077],[18.805,37.036],[18.861,36.994],[18.906,36.971],[18.962,36.955],[18.995,36.936],
[19.017,37.096],[19.073,37.114],[19.129,37.151],[19.184,37.179],[19.240,37.202],[19.263,37.087],[19.307,37.059],[19.363,37.017],[19.419,36.980],[19.474,36.971],[19.502,36.955],
[19.519,37.096],[19.575,37.124],[19.631,37.142],[19.686,37.175],[19.731,37.205],[19.753,37.110],[19.798,37.077],[19.854,37.045],[19.910,36.999],[19.965,36.971],[19.999,36.941],
[20.021,37.094],[20.077,37.091],[20.133,37.100],[20.188,37.107],[20.233,37.087],[20.255,37.003],[20.300,36.934],[20.356,36.892],[20.411,36.869],[20.467,36.864],[20.495,36.850],
[20.517,37.022],[20.551,37.031],[20.607,37.040],[20.662,37.054],[20.735,37.075],[20.757,36.985],[20.802,36.901],[20.858,36.874],[20.913,36.855],[20.969,36.841],[20.997,36.825],
[21.014,36.980],[21.053,36.994],[21.109,37.022],[21.164,37.054],[21.226,37.094],[21.248,36.989],[21.304,36.948],[21.360,36.911],[21.415,36.874],[21.471,36.850],[21.499,36.830],
[21.521,37.003],[21.571,37.036],[21.627,37.068],[21.683,37.082],[21.733,37.098],[21.761,36.989],[21.806,36.952],[21.862,36.901],[21.917,36.850],[21.973,36.818],[22.001,36.793],
[22.018,36.952],[22.057,36.971],[22.113,37.008],[22.168,37.050],[22.224,37.094],[22.252,36.989],[22.308,36.929],[22.363,36.883],[22.419,36.850],[22.475,36.827],[22.503,36.810],
[22.519,36.975],[22.559,36.989],[22.614,37.040],[22.670,37.073],[22.732,37.106],[22.754,37.003],[22.810,36.948],[22.865,36.892],[22.921,36.860],[22.977,36.837],[22.999,36.818],
[23.022,36.980],[23.061,36.994],[23.116,37.026],[23.172,37.059],[23.228,37.096],[23.256,36.980],[23.312,36.897],[23.367,36.827],[23.423,36.781],[23.479,36.758],[23.495,36.751],
[23.518,36.925],[23.562,36.929],[23.618,36.957],[23.674,37.003],[23.730,37.029],[23.758,36.911],[23.802,36.841],[23.841,36.800],[23.869,36.772],[23.925,36.749],[23.953,36.739],[23.992,36.730]
];

// ---- PC Temp [°C] ----
const pcTemp = [
[0.00,30.31],[0.23,30.36],[0.33,30.27],[0.46,30.23],[0.54,30.14],[0.74,30.12],[0.84,30.00],[1.00,29.85],[1.24,29.84],[1.38,29.72],[1.52,29.64],[1.73,29.69],[1.84,29.62],[2.01,29.59],
[2.22,29.74],[2.51,29.72],[2.73,29.83],[3.01,29.73],[3.26,29.86],[3.51,29.82],[3.72,29.94],[4.01,29.84],[4.22,29.91],[4.52,29.74],[4.72,29.80],[4.85,29.69],[5.02,29.65],[5.23,29.73],
[5.35,29.66],[5.52,29.59],[5.73,29.59],[5.94,29.46],[6.02,29.29],[6.23,29.16],[6.40,29.00],[6.54,28.86],[6.73,28.88],[6.86,28.83],[7.02,28.90],[7.23,29.05],[7.36,29.00],[7.51,28.99],
[7.73,29.18],[7.88,29.18],[8.03,29.29],[8.11,29.41],[8.24,29.54],[8.41,29.34],[8.53,29.18],[8.70,29.19],[8.82,29.18],[9.01,29.26],[9.11,29.40],[9.24,29.58],[9.36,29.62],[9.49,29.77],
[9.62,29.99],[9.74,30.17],[9.82,30.19],[9.99,30.48],[10.12,30.66],[10.28,30.85],[10.46,31.05],[10.69,31.18],[10.82,31.10],[10.99,31.07],[11.19,31.14],[11.49,31.19],[11.74,31.37],[11.82,31.35],
[12.02,31.43],[12.27,31.68],[12.49,31.96],[12.60,32.18],[12.74,32.36],[12.97,32.53],[13.08,32.58],[13.25,32.63],[13.45,32.58],[13.54,32.50],[13.71,32.46],[13.87,32.30],[14.04,32.21],[14.23,32.23],
[14.38,32.12],[14.54,32.03],[14.75,32.02],[14.88,31.89],[15.05,31.81],[15.24,31.78],[15.38,31.65],[15.53,31.48],[15.72,31.42],[15.84,31.26],[16.03,31.08],[16.23,31.03],[16.34,30.91],[16.54,30.78],
[16.73,30.77],[16.84,30.64],[17.01,30.52],[17.22,30.55],[17.37,30.48],[17.53,30.43],[17.74,30.50],[17.89,30.39],[18.02,30.35],[18.22,30.39],[18.35,30.30],[18.54,30.21],[18.75,30.35],[19.02,30.39],
[19.25,30.65],[19.52,30.73],[19.73,31.00],[19.97,31.09],[20.23,30.95],[20.36,30.71],[20.53,30.25],[20.74,29.84],[20.86,29.53],[21.03,29.29],[21.22,29.16],[21.36,28.98],[21.53,28.85],[21.72,28.89],
[21.86,28.80],[22.03,28.73],[22.24,28.76],[22.36,28.68],[22.53,28.60],[22.74,28.62],[22.87,28.47],[23.04,28.32],[23.25,28.08],[23.37,27.82],[23.54,27.62],[23.75,27.66],[23.87,27.56],[24.00,27.51]
];

// ---- build figure ----
const FONT = 'DejaVu Sans, Verdana, sans-serif';
const INK = '#262626';

function tr(rows, color, xa, ya) {
  return {
    type: 'scatter', mode: 'lines',
    x: rows.map(r => r[0]), y: rows.map(r => r[1]),
    xaxis: xa, yaxis: ya,
    line: {color: color, width: 3.3},
    hoverinfo: 'skip'
  };
}

const data = [
  tr(transPower, '#000000', 'x', 'y'),
  tr(transTemp, '#d62728', 'x2', 'y2'),
  tr(recTemp, '#ff7f0e', 'x3', 'y3'),
  tr(pcTemp, '#1f77b4', 'x4', 'y4')
];

function xAxis(anchor, showLabels) {
  const ax = {
    anchor: anchor,
    domain: [0, 1],
    range: [0, 24],
    tickmode: 'array', tickvals: hourTicks, ticktext: hourLabels,
    showticklabels: showLabels,
    ticklabelstandoff: -14,
    ticks: 'outside', ticklen: 19, tickwidth: 3, tickcolor: INK,
    minor: {tickmode: 'linear', tick0: 0, dtick: 0.25, ticks: 'outside', ticklen: 10, tickwidth: 2.5, tickcolor: INK, showgrid: false},
    showline: true, mirror: true, linecolor: INK, linewidth: 3,
    showgrid: true, gridcolor: '#b0b0b0', gridwidth: 2,
    zeroline: false,
    tickfont: {family: FONT, size: 46.7, color: '#000'}
  };
  if (anchor !== 'y4') ax.matches = 'x4';
  return ax;
}

function yAxis(anchor, domain, range, tickvals, fmt, title) {
  return {
    anchor: anchor,
    domain: domain,
    range: range,
    tickmode: 'array', tickvals: tickvals, tickformat: fmt,
    ticks: 'outside', ticklen: 19, tickwidth: 3, tickcolor: INK,
    showline: true, mirror: true, linecolor: INK, linewidth: 3,
    showgrid: true, gridcolor: '#b0b0b0', gridwidth: 2,
    zeroline: false,
    tickfont: {family: FONT, size: 46.7, color: '#000'},
    title: {text: title, font: {family: FONT, size: 50, color: '#000'}}
  };
}

const layout = {
  width: 3000, height: 2160,
  margin: {l: 220, r: 36, t: 60, b: 134, pad: 0},
  paper_bgcolor: '#ffffff', plot_bgcolor: '#ffffff',
  showlegend: false,
  font: {family: FONT, color: '#000'},
  title: {
    text: 'W-band Housekeeping 2024-01-03',
    font: {family: FONT, size: 53.3, color: '#000'},
    x: 0.5, xref: 'paper', xanchor: 'center',
    y: 1 - 30 / 2160, yref: 'container', yanchor: 'middle'
  },
  xaxis: xAxis('y', false),
  xaxis2: xAxis('y2', false),
  xaxis3: xAxis('y3', false),
  xaxis4: Object.assign(xAxis('y4', true), {title: {text: 'Time [UTC]', standoff: 6, font: {family: FONT, size: 50, color: '#000'}}}),
  yaxis: yAxis('x', [0.76195, 1.0], [1.4926, 1.5227], [1.50, 1.51, 1.52], '.2f', 'Trans. Power [W]'),
  yaxis2: yAxis('x2', [0.50966, 0.74619], [39.0355, 39.1977], [39.05, 39.10, 39.15], '.2f', 'Trans. Temp [°C]'),
  yaxis3: yAxis('x3', [0.25381, 0.49186], [36.698, 37.347], [36.8, 37.0, 37.2], '.1f', 'Rec. Temp [°C]'),
  yaxis4: yAxis('x4', [0.0, 0.23805], [27.200, 32.895], [28, 30, 32], '.0f', 'PC Temp [°C]')
};

Plotly.newPlot('chart', data, layout, {displayModeBar: false, staticPlot: true});
</script>
</body>
</html>
